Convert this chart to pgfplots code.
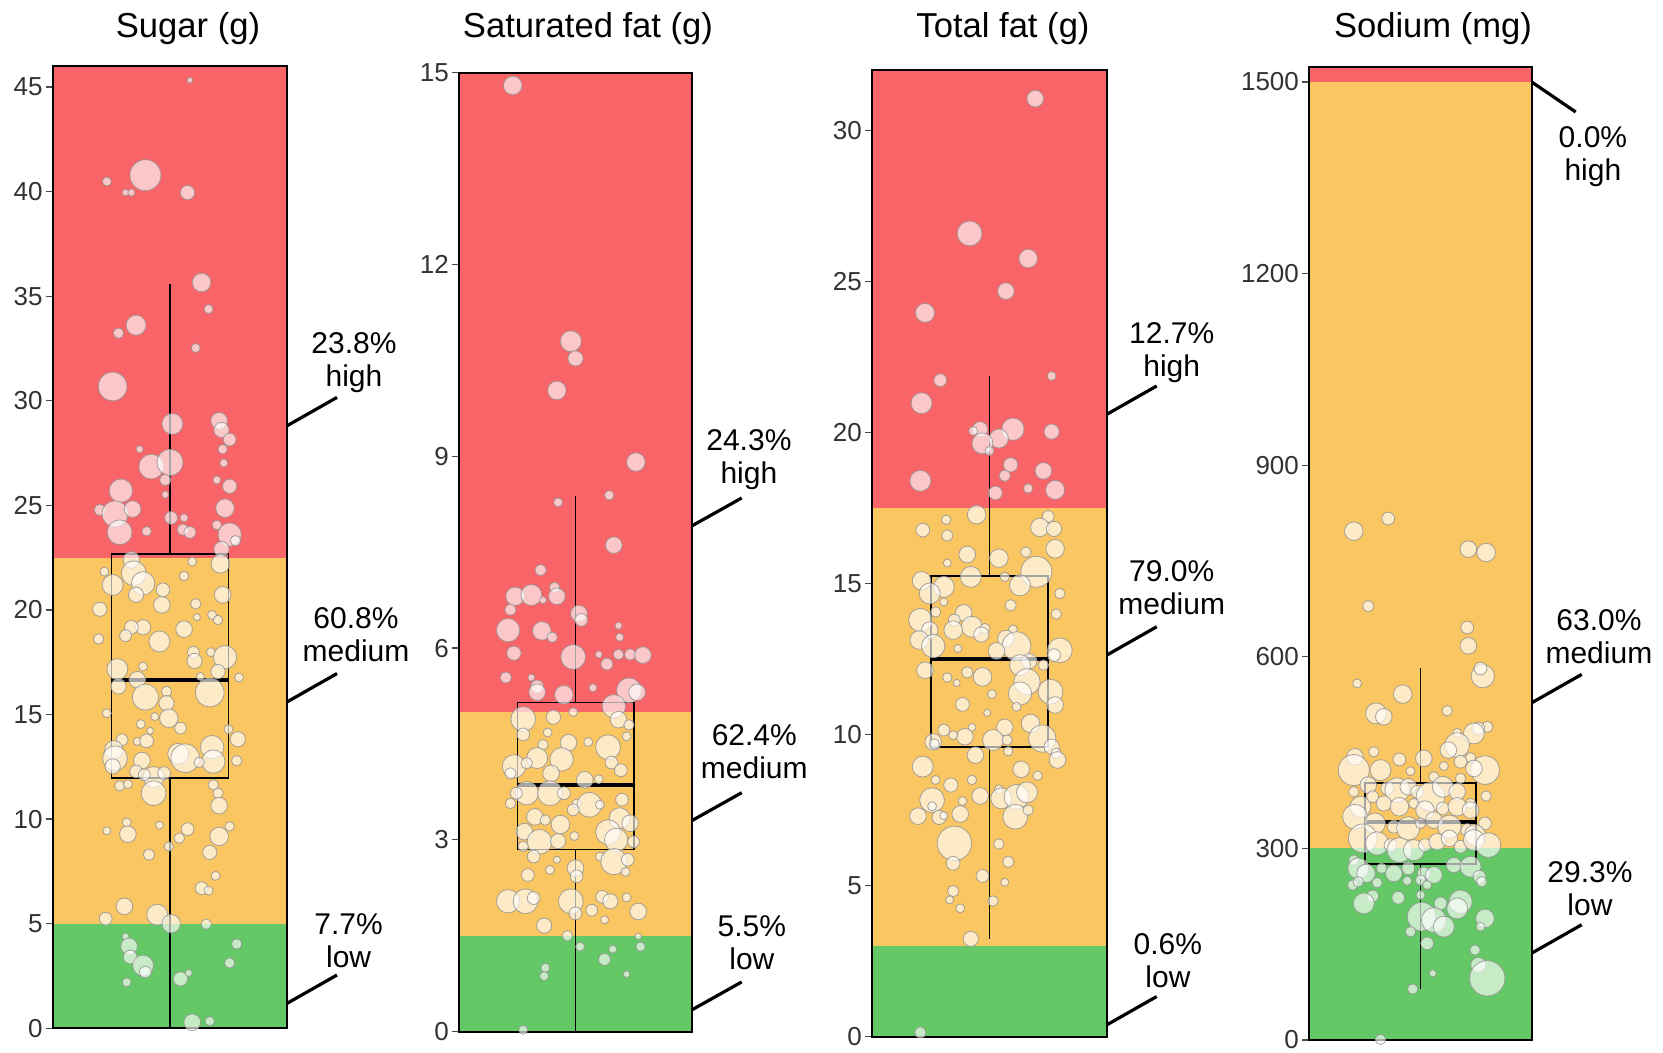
\documentclass[border=0pt]{standalone}
\usepackage{fontspec}
\setmainfont{Liberation Sans}
\usepackage{pgfplots}
\pgfplotsset{compat=1.18}
\definecolor{cred}{RGB}{249,100,104}
\definecolor{cyel}{RGB}{250,198,98}
\definecolor{cgrn}{RGB}{100,200,102}
\definecolor{tickgray}{RGB}{50,50,50}
\pgfplotsset{
  panel/.style={
    scale only axis, anchor=south west,
    xmin=-1, xmax=1, ymin=0,
    xtick=\empty, ytick pos=left, tick align=outside,
    major tick length=3.5pt,
    every tick/.style={black!70, line width=0.6pt},
    axis line style={black, line width=1pt},
    yticklabel style={font=\fontsize{13}{15}\selectfont, text=tickgray, inner xsep=1.5pt},
    /pgf/number format/assume math mode=true,
    /pgf/number format/1000 sep={},
    clip=false, axis on top,
  },
  bubble/.style={scatter, only marks, mark=*,
    scatter/use mapped color={draw=black!42, fill=white, fill opacity=0.64, draw opacity=0.85},
    visualization depends on={\thisrow{r}\as\rr},
    scatter/@pre marker code/.append style={/tikz/mark size={1.2*\rr+0.2}, /tikz/line width=0.55pt}},
  whisk/.style={black, line width=0.65pt, mark=none},
  boxl/.style={black, line width=0.9pt, mark=none},
  medl/.style={black, line width=2pt, mark=none},
}
\tikzset{ann/.style={anchor=north, align=center, inner sep=0pt, font=\fontsize{15}{16.5}\selectfont},
  annl/.style={line width=1.6pt}}
\begin{document}
\begin{tikzpicture}
\path[use as bounding box] (0,0) rectangle (831.5pt,526.5pt);
% ---------------- Sugar
\begin{axis}[panel, at={(26.5pt,12.35pt)}, width=117pt, height=481.15pt, ymax=46, ytick={0,5,...,45}]
\addplot[fill=cred, draw=none] coordinates {(-1,22.5) (1,22.5) (1,46) (-1,46)} -- cycle;
\addplot[fill=cyel, draw=none] coordinates {(-1,5) (1,5) (1,22.5) (-1,22.5)} -- cycle;
\addplot[fill=cgrn, draw=none] coordinates {(-1,0) (1,0) (1,5) (-1,5)} -- cycle;
\addplot[whisk] coordinates {(0,0) (0,11.97)};
\addplot[whisk] coordinates {(0,22.68) (0,35.6)};
\addplot[boxl] coordinates {(-0.5,11.97) (0.5,11.97) (0.5,22.68) (-0.5,22.68)} -- cycle;
\addplot[medl] coordinates {(-0.5,16.63) (0.5,16.63)};
\addplot[bubble] table[x=x, y=y, row sep=\\] {
x y r \\
0.17 45.32 1.0 \\ -0.54 40.48 1.7 \\ -0.38 39.95 1.2 \\ -0.33 39.95 1.3 \\ -0.21 40.78 6.3 \\
0.15 39.95 2.8 \\ 0.27 35.65 3.7 \\ 0.33 34.38 1.7 \\ -0.29 33.61 4.0 \\ -0.44 33.23 2.0 \\
0.22 32.52 1.7 \\ -0.49 30.68 5.8 \\ 0.02 28.89 4.2 \\ 0.42 29.04 3.3 \\ 0.44 28.6 3.0 \\
0.51 28.14 2.5 \\ -0.26 27.68 1.3 \\ 0.45 27.68 1.8 \\ 0.46 27.02 1.5 \\ -0.16 26.85 5.0 \\
0.0 27.05 5.3 \\ -0.04 26.21 2.2 \\ 0.4 26.21 1.5 \\ -0.42 25.7 4.7 \\ 0.51 25.91 2.8 \\
-0.04 25.51 1.3 \\ -0.6 24.78 2.2 \\ -0.47 24.59 5.3 \\ -0.32 24.82 3.3 \\ 0.47 24.86 3.7 \\
0.01 24.4 2.5 \\ 0.12 24.4 1.5 \\ -0.43 23.71 5.0 \\ -0.2 23.76 1.8 \\ 0.11 23.84 2.2 \\
0.17 23.71 2.3 \\ 0.4 24.06 1.8 \\ 0.51 23.6 4.7 \\ 0.56 23.31 2.0 \\ 0.44 22.91 3.0 \\
-0.33 22.39 3.3 \\ -0.56 21.83 1.7 \\ -0.49 21.19 4.2 \\ -0.31 21.75 5.0 \\ -0.23 21.27 4.7 \\
-0.29 20.72 3.0 \\ -0.06 20.96 2.7 \\ 0.19 22.31 1.7 \\ 0.12 21.62 1.8 \\ 0.43 22.2 3.7 \\
0.45 20.72 3.3 \\ -0.07 20.24 3.3 \\ 0.22 20.29 2.0 \\ -0.6 20.03 2.8 \\ 0.23 19.65 1.3 \\
0.36 19.76 1.7 \\ 0.41 19.52 1.8 \\ -0.23 19.17 3.0 \\ -0.33 19.17 2.7 \\ 0.12 19.08 3.3 \\
-0.38 18.77 2.3 \\ -0.61 18.61 2.0 \\ -0.09 18.49 4.2 \\ 0.2 17.98 2.3 \\ 0.35 17.98 1.7 \\
0.47 17.74 4.7 \\ 0.21 17.56 3.0 \\ -0.23 17.29 1.7 \\ -0.45 17.17 4.2 \\ 0.41 17.05 2.8 \\
0.26 16.82 1.5 \\ 0.59 16.77 1.7 \\ -0.28 16.66 3.3 \\ -0.44 16.34 3.0 \\ -0.21 15.83 5.3 \\
-0.03 16.1 2.0 \\ -0.03 15.54 3.0 \\ 0.34 16.05 5.8 \\ -0.54 15.06 1.7 \\ -0.13 14.9 1.5 \\
-0.01 14.82 3.7 \\ 0.09 14.35 2.3 \\ -0.25 14.54 1.7 \\ -0.17 14.22 1.3 \\ -0.41 13.79 2.3 \\
-0.28 13.71 1.5 \\ -0.2 13.74 2.7 \\ -0.48 13.31 3.7 \\ -0.47 12.91 5.0 \\ -0.49 12.52 3.0 \\
-0.24 12.8 3.3 \\ 0.07 13.12 4.2 \\ 0.13 12.91 5.8 \\ 0.36 13.44 4.7 \\ 0.58 13.82 3.0 \\
0.5 14.3 1.7 \\ 0.37 12.75 4.7 \\ 0.25 12.71 2.0 \\ 0.57 12.79 2.0 \\ -0.29 12.28 2.5 \\
-0.14 12.01 4.2 \\ -0.05 12.2 2.5 \\ -0.22 12.12 2.3 \\ -0.43 11.59 2.0 \\ -0.36 11.67 1.7 \\
-0.14 11.24 5.0 \\ 0.37 11.64 2.0 \\ 0.41 11.24 2.0 \\ 0.42 10.64 3.3 \\ -0.37 9.84 1.7 \\
-0.54 9.44 1.5 \\ -0.36 9.28 3.3 \\ -0.09 9.71 1.5 \\ 0.15 9.52 2.5 \\ 0.08 9.09 2.0 \\
0.42 9.17 3.7 \\ 0.51 9.65 1.8 \\ -0.01 8.69 1.8 \\ -0.18 8.3 2.2 \\ 0.34 8.41 2.8 \\
0.39 7.29 1.7 \\ 0.27 6.7 2.5 \\ 0.33 6.58 1.7 \\ -0.39 5.83 3.3 \\ -0.55 5.24 2.5 \\
-0.11 5.43 4.2 \\ 0.01 5.0 3.7 \\ 0.31 4.98 2.0 \\ -0.38 4.39 1.3 \\ -0.35 3.92 3.3 \\
-0.34 3.41 2.7 \\ -0.23 3.0 4.2 \\ -0.21 2.69 2.3 \\ 0.57 4.03 2.0 \\ 0.51 3.12 2.0 \\
0.09 2.36 2.8 \\ 0.16 2.64 1.3 \\ -0.37 2.2 1.7 \\ 0.19 0.29 3.3 \\ 0.34 0.34 1.8 \\
};
\draw[annl] (axis cs:1,28.8) -- ++(25pt,14.2pt) node[ann, yshift=33pt, xshift=8.5pt] {23.8\%\\high};
\draw[annl] (axis cs:1,15.6) -- ++(25pt,14.2pt) node[ann, yshift=34pt, xshift=9.5pt] {60.8\%\\medium};
\draw[annl] (axis cs:1,1.19) -- ++(25pt,14.2pt) node[ann, yshift=31.5pt, xshift=5.8pt] {7.7\%\\low};
\end{axis}
% ---------------- Saturated fat
\begin{axis}[panel, at={(229.65pt,10.65pt)}, width=116.2pt, height=479.5pt, ymax=15, ytick={0,3,...,15}]
\addplot[fill=cred, draw=none] coordinates {(-1,5) (1,5) (1,15) (-1,15)} -- cycle;
\addplot[fill=cyel, draw=none] coordinates {(-1,1.5) (1,1.5) (1,5) (-1,5)} -- cycle;
\addplot[fill=cgrn, draw=none] coordinates {(-1,0) (1,0) (1,1.5) (-1,1.5)} -- cycle;
\addplot[whisk] coordinates {(0,0) (0,2.85)};
\addplot[whisk] coordinates {(0,5.15) (0,8.38)};
\addplot[boxl] coordinates {(-0.5,2.85) (0.5,2.85) (0.5,5.15) (-0.5,5.15)} -- cycle;
\addplot[medl] coordinates {(-0.5,3.86) (0.5,3.86)};
\addplot[bubble] table[x=x, y=y, row sep=\\] {
x y r \\
-0.54 14.8 3.7 \\ -0.04 10.8 4.2 \\ 0.0 10.53 3.0 \\ -0.16 10.03 3.7 \\ 0.52 8.91 3.7 \\
0.29 8.39 1.8 \\ -0.15 8.28 1.7 \\ 0.33 7.61 3.3 \\ -0.3 7.22 2.2 \\ -0.52 6.81 3.7 \\
-0.38 6.83 4.2 \\ -0.28 6.75 1.3 \\ -0.18 6.95 2.0 \\ -0.16 6.81 3.3 \\ -0.56 6.6 2.2 \\
0.03 6.54 3.3 \\ 0.05 6.44 2.5 \\ 0.37 6.35 1.3 \\ -0.58 6.28 4.7 \\ -0.29 6.27 3.7 \\
-0.2 6.17 2.0 \\ 0.38 6.17 1.5 \\ -0.02 5.86 5.0 \\ -0.53 5.92 2.8 \\ 0.2 5.9 1.3 \\
0.27 5.75 2.3 \\ 0.37 5.9 2.0 \\ 0.47 5.9 2.2 \\ 0.58 5.89 3.3 \\ -0.6 5.54 2.2 \\
-0.38 5.54 1.3 \\ -0.33 5.4 2.5 \\ -0.33 5.31 3.3 \\ 0.15 5.38 1.5 \\ -0.1 5.27 3.7 \\
0.46 5.34 5.0 \\ 0.53 5.31 3.3 \\ -0.45 4.89 5.0 \\ -0.19 4.92 2.8 \\ -0.02 5.0 1.7 \\
0.33 5.09 4.7 \\ 0.37 4.88 3.3 \\ 0.46 4.8 2.0 \\ -0.45 4.65 2.5 \\ -0.24 4.68 1.7 \\
-0.06 4.52 3.3 \\ 0.11 4.53 1.7 \\ 0.28 4.45 5.0 \\ 0.44 4.62 1.7 \\ -0.28 4.49 2.0 \\
-0.33 4.28 4.2 \\ -0.12 4.26 4.7 \\ -0.53 4.15 4.7 \\ -0.42 4.2 2.2 \\ 0.31 4.21 2.5 \\
0.39 4.09 2.5 \\ -0.21 4.04 3.3 \\ 0.08 3.94 3.3 \\ 0.2 3.95 1.7 \\ -0.56 4.04 2.2 \\
-0.42 3.73 4.7 \\ -0.22 3.73 5.0 \\ -0.1 3.73 2.5 \\ 0.01 3.57 1.7 \\ 0.12 3.55 5.0 \\
0.21 3.55 1.7 \\ -0.56 3.57 2.0 \\ -0.51 3.73 2.3 \\ 0.4 3.63 2.5 \\ -0.35 3.36 3.3 \\
-0.26 3.31 2.0 \\ -0.13 3.24 3.7 \\ -0.02 3.47 2.3 \\ 0.38 3.34 4.2 \\ 0.47 3.26 3.3 \\
-0.44 3.13 3.3 \\ -0.31 2.97 5.0 \\ -0.15 2.98 3.0 \\ -0.01 3.06 1.7 \\ 0.28 3.12 5.0 \\
0.35 3.0 4.7 \\ 0.5 2.97 2.3 \\ -0.45 2.9 2.0 \\ -0.36 2.74 2.5 \\ -0.16 2.69 1.3 \\
0.21 2.74 1.7 \\ 0.33 2.66 5.3 \\ 0.45 2.69 2.5 \\ 0.0 2.56 3.3 \\ 0.01 2.43 2.5 \\
-0.41 2.45 2.5 \\ -0.22 2.53 1.7 \\ 0.43 2.5 1.7 \\ -0.58 2.04 4.7 \\ -0.43 2.04 5.0 \\
-0.36 2.09 2.5 \\ -0.04 2.04 5.0 \\ 0.0 1.85 2.5 \\ 0.23 2.11 2.5 \\ 0.3 2.04 3.0 \\
0.14 1.9 2.3 \\ 0.44 2.1 1.7 \\ 0.54 1.88 3.3 \\ 0.25 1.75 1.5 \\ -0.27 1.66 3.0 \\
-0.07 1.5 2.0 \\ 0.04 1.33 1.7 \\ 0.54 1.49 1.2 \\ 0.56 1.33 1.8 \\ 0.32 1.29 1.5 \\
0.25 1.13 2.3 \\ -0.26 1.0 1.7 \\ -0.27 0.87 1.7 \\ 0.44 0.9 1.2 \\ -0.45 0.03 1.7 \\
};
\draw[annl] (axis cs:1,7.91) -- ++(25pt,14pt) node[ann, yshift=35pt, xshift=3.6pt] {24.3\%\\high};
\draw[annl] (axis cs:1,3.30) -- ++(25pt,14pt) node[ann, yshift=35pt, xshift=6.3pt] {62.4\%\\medium};
\draw[annl] (axis cs:1,0.34) -- ++(25pt,14pt) node[ann, yshift=34pt, xshift=5.1pt] {5.5\%\\low};
\end{axis}
% ---------------- Total fat
\begin{axis}[panel, at={(436.15pt,8.15pt)}, width=117.2pt, height=483.35pt, ymax=32, ytick={0,5,...,30}]
\addplot[fill=cred, draw=none] coordinates {(-1,17.5) (1,17.5) (1,32) (-1,32)} -- cycle;
\addplot[fill=cyel, draw=none] coordinates {(-1,3) (1,3) (1,17.5) (-1,17.5)} -- cycle;
\addplot[fill=cgrn, draw=none] coordinates {(-1,0) (1,0) (1,3) (-1,3)} -- cycle;
\addplot[whisk] coordinates {(0,3.25) (0,9.6)};
\addplot[whisk] coordinates {(0,15.25) (0,21.86)};
\addplot[boxl] coordinates {(-0.5,9.6) (0.5,9.6) (0.5,15.25) (-0.5,15.25)} -- cycle;
\addplot[medl] coordinates {(-0.5,12.5) (0.5,12.5)};
\addplot[bubble] table[x=x, y=y, row sep=\\] {
x y r \\
0.39 31.05 3.3 \\ -0.17 26.59 5.0 \\ 0.33 25.76 3.7 \\ 0.14 24.68 3.3 \\ -0.55 23.96 3.8 \\
-0.42 21.73 2.5 \\ 0.53 21.87 1.7 \\ -0.58 20.97 4.2 \\ -0.08 20.11 3.0 \\ -0.14 20.05 1.7 \\
0.2 20.11 4.5 \\ 0.08 19.8 3.8 \\ -0.06 19.64 4.2 \\ 0.53 20.03 3.0 \\ 0.0 19.39 1.7 \\
0.18 18.93 2.8 \\ 0.46 18.73 3.3 \\ 0.13 18.57 2.2 \\ -0.59 18.4 4.2 \\ 0.33 18.15 1.8 \\
0.56 18.1 3.8 \\ 0.05 18.0 2.7 \\ -0.11 17.28 3.7 \\ -0.37 17.11 1.8 \\ 0.5 17.22 2.3 \\
-0.57 16.77 2.7 \\ -0.36 16.59 2.2 \\ 0.43 16.86 3.7 \\ 0.55 16.81 3.0 \\ 0.56 16.15 3.7 \\
-0.19 15.96 3.3 \\ 0.08 15.84 3.7 \\ 0.31 16.04 2.0 \\ -0.36 15.68 1.5 \\ 0.4 15.39 6.3 \\
-0.16 15.22 4.2 \\ -0.58 15.09 3.7 \\ 0.13 15.22 1.8 \\ 0.26 14.94 4.2 \\ -0.39 14.89 4.2 \\
-0.51 14.67 4.2 \\ 0.6 14.67 2.0 \\ -0.39 14.39 1.5 \\ 0.18 14.28 2.2 \\ -0.59 13.79 4.7 \\
-0.46 14.06 2.0 \\ -0.22 14.03 3.3 \\ -0.3 13.79 2.3 \\ 0.57 13.99 2.0 \\ -0.15 13.57 4.2 \\
-0.04 13.51 2.0 \\ -0.51 13.46 3.3 \\ -0.31 13.46 3.7 \\ -0.07 13.31 3.0 \\ 0.2 13.48 1.7 \\
-0.6 13.13 3.7 \\ 0.14 13.18 3.3 \\ 0.23 12.93 5.8 \\ -0.48 12.93 4.7 \\ -0.27 12.85 1.5 \\
0.06 12.77 3.3 \\ 0.6 12.79 5.0 \\ 0.55 12.63 2.5 \\ 0.34 12.43 3.0 \\ 0.26 12.3 4.2 \\
0.46 12.3 2.0 \\ -0.55 12.13 3.3 \\ -0.19 12.06 2.2 \\ -0.36 11.89 1.8 \\ -0.06 11.91 3.7 \\
-0.28 11.71 1.3 \\ 0.32 11.75 5.3 \\ 0.52 11.42 5.0 \\ 0.02 11.34 1.7 \\ 0.26 11.36 4.7 \\
-0.23 11.0 2.7 \\ -0.02 10.72 1.3 \\ 0.23 10.92 1.7 \\ 0.56 10.98 3.3 \\ 0.35 10.37 3.7 \\
0.13 10.24 3.3 \\ -0.15 10.24 1.5 \\ -0.39 10.15 2.3 \\ -0.21 9.93 3.3 \\ -0.31 9.98 1.7 \\
-0.48 9.76 3.3 \\ 0.03 9.82 4.2 \\ 0.45 9.87 5.5 \\ 0.15 9.82 2.0 \\ 0.53 9.6 3.0 \\
0.16 9.45 1.8 \\ -0.47 9.69 2.0 \\ -0.12 9.32 3.3 \\ 0.57 9.38 2.0 \\ 0.58 9.16 3.3 \\
-0.57 8.94 4.2 \\ 0.27 8.85 3.3 \\ -0.46 8.5 1.7 \\ -0.15 8.5 1.8 \\ 0.41 8.64 1.8 \\
-0.33 8.33 2.8 \\ -0.08 7.97 3.3 \\ 0.08 8.19 1.7 \\ 0.1 7.89 4.2 \\ 0.23 7.94 5.0 \\
0.32 8.09 4.2 \\ -0.49 7.83 5.0 \\ -0.49 7.63 1.7 \\ -0.23 7.8 1.7 \\ 0.22 7.28 5.0 \\
0.33 7.5 2.0 \\ -0.61 7.3 3.3 \\ -0.43 7.26 2.8 \\ -0.39 7.32 1.5 \\ -0.25 7.37 3.3 \\
-0.3 6.4 7.0 \\ 0.08 6.38 2.0 \\ -0.31 5.74 2.7 \\ 0.16 5.79 2.2 \\ -0.06 5.32 2.5 \\
0.13 5.11 1.5 \\ -0.31 4.82 2.2 \\ -0.34 4.53 1.5 \\ 0.03 4.49 2.0 \\ -0.25 4.25 1.7 \\
-0.16 3.24 3.0 \\ -0.59 0.14 2.2 \\
};
\draw[annl] (axis cs:1,20.6) -- ++(25pt,14.2pt) node[ann, yshift=32.5pt, xshift=7.5pt] {12.7\%\\high};
\draw[annl] (axis cs:1,12.63) -- ++(25pt,14.2pt) node[ann, yshift=34pt, xshift=7.5pt] {79.0\%\\medium};
\draw[annl] (axis cs:1,0.39) -- ++(25pt,14.2pt) node[ann, yshift=32.5pt, xshift=5.6pt] {0.6\%\\low};
\end{axis}
% ---------------- Sodium
\begin{axis}[panel, at={(654.65pt,6.5pt)}, width=111.2pt, height=486.65pt, ymax=1524, ytick={0,300,600,900,1200,1500}]
\addplot[fill=cred, draw=none] coordinates {(-1,1500) (1,1500) (1,1524) (-1,1524)} -- cycle;
\addplot[fill=cyel, draw=none] coordinates {(-1,300) (1,300) (1,1500) (-1,1500)} -- cycle;
\addplot[fill=cgrn, draw=none] coordinates {(-1,0) (1,0) (1,300) (-1,300)} -- cycle;
\addplot[whisk] coordinates {(0,79.3) (0,275)};
\addplot[whisk] coordinates {(0,402.7) (0,582.6)};
\addplot[boxl] coordinates {(-0.5,275) (0.5,275) (0.5,402.7) (-0.5,402.7)} -- cycle;
\addplot[medl] coordinates {(-0.5,341.6) (0.5,341.6)};
\addplot[bubble] table[x=x, y=y, row sep=\\] {
x y r \\
-0.6 796.7 3.7 \\ -0.29 816.5 2.5 \\ 0.43 768.5 3.3 \\ 0.59 763.3 3.7 \\ -0.47 679.3 2.2 \\
0.42 645.9 2.5 \\ 0.43 617.2 3.3 \\ 0.56 569.7 4.7 \\ 0.54 581.7 2.5 \\ -0.57 558.3 1.7 \\
-0.16 541.6 3.7 \\ -0.4 511.3 4.2 \\ -0.33 506.1 3.3 \\ 0.24 515.5 2.0 \\ 0.6 490.4 2.2 \\
0.52 487.8 2.5 \\ 0.48 480.0 4.2 \\ 0.33 481.0 1.7 \\ 0.33 461.7 5.0 \\ 0.25 453.9 3.3 \\
-0.59 443.5 3.3 \\ -0.42 451.3 2.0 \\ 0.03 440.9 3.3 \\ -0.19 439.3 2.5 \\ 0.45 441.9 2.0 \\
0.21 428.9 1.7 \\ -0.6 422.6 6.3 \\ -0.36 422.6 4.2 \\ -0.09 421.0 1.7 \\ 0.36 435.7 2.5 \\
0.58 422.6 5.8 \\ 0.48 425.2 3.3 \\ 0.12 412.2 2.0 \\ 0.36 409.6 2.0 \\ -0.47 399.1 3.3 \\
-0.3 393.9 2.5 \\ -0.21 391.3 5.0 \\ -0.11 396.5 3.3 \\ -0.03 388.7 2.5 \\ 0.09 380.9 5.8 \\
0.2 396.5 4.2 \\ 0.33 388.7 3.3 \\ 0.45 370.4 2.0 \\ 0.59 381.9 2.0 \\ -0.6 388.7 2.0 \\
-0.54 365.2 4.2 \\ -0.43 380.9 2.3 \\ -0.33 370.4 3.0 \\ -0.19 365.2 3.7 \\ -0.06 370.4 2.0 \\
0.04 360.0 3.7 \\ 0.2 362.6 2.5 \\ 0.33 365.2 3.7 \\ 0.45 360.0 3.3 \\ -0.59 349.6 5.0 \\
-0.41 339.1 4.2 \\ -0.24 333.9 2.5 \\ -0.11 331.3 4.7 \\ 0.0 339.1 2.0 \\ 0.12 344.3 3.3 \\
0.26 333.9 4.7 \\ 0.42 328.7 2.5 \\ 0.58 339.1 2.5 \\ 0.49 320.9 4.2 \\ -0.52 315.7 5.8 \\
-0.39 307.8 4.7 \\ -0.27 305.2 2.5 \\ -0.19 297.4 5.0 \\ -0.06 297.4 4.2 \\ 0.04 305.2 2.5 \\
0.15 310.4 3.3 \\ 0.26 315.7 3.3 \\ 0.36 302.6 2.5 \\ 0.48 313.0 4.2 \\ 0.61 305.2 5.0 \\
-0.6 281.7 2.0 \\ -0.56 268.7 4.2 \\ -0.49 260.9 3.7 \\ -0.35 268.7 2.0 \\ -0.24 260.9 3.3 \\
-0.11 268.7 2.5 \\ 0.03 260.9 2.5 \\ 0.12 258.3 3.3 \\ 0.3 273.9 3.0 \\ 0.45 271.3 4.2 \\
0.53 255.7 2.5 \\ 0.55 247.8 2.0 \\ -0.61 242.6 2.0 \\ -0.56 247.8 2.0 \\ -0.39 246.3 2.0 \\
-0.12 249.4 1.7 \\ 0.0 250.4 2.0 \\ 0.06 242.6 1.7 \\ -0.43 225.4 2.3 \\ -0.51 213.9 4.2 \\
-0.2 222.8 2.5 \\ 0.0 227.0 1.7 \\ 0.18 213.9 2.5 \\ 0.36 216.5 4.7 \\ 0.33 206.1 4.2 \\
0.01 193.1 5.8 \\ 0.12 187.8 5.0 \\ 0.21 177.4 4.2 \\ -0.09 169.6 2.0 \\ 0.58 190.4 3.7 \\
0.54 177.4 1.7 \\ 0.06 151.3 2.5 \\ 0.49 140.9 2.0 \\ 0.52 117.4 3.0 \\ 0.6 96.5 7.2 \\
0.11 104.4 1.3 \\ -0.07 79.8 2.0 \\ -0.36 1.0 2.0 \\
};
\draw[annl] (axis cs:1,1500) -- ++(22pt,-15pt) node[ann, yshift=-6.7pt, xshift=8.6pt] {0.0\%\\high};
\draw[annl] (axis cs:1,528) -- ++(25pt,14.2pt) node[ann, yshift=33pt, xshift=8.6pt] {63.0\%\\medium};
\draw[annl] (axis cs:1,136) -- ++(25pt,14.2pt) node[ann, yshift=32.5pt, xshift=4.1pt] {29.3\%\\low};
\end{axis}
% ---------------- titles
\begin{scope}[every node/.style={anchor=base, font=\fontsize{17.3}{19}\selectfont, inner sep=0pt}]
\node at (94pt,507.5pt) {Sugar (g)};
\node at (294pt,507.5pt) {Saturated fat (g)};
\node at (501.5pt,507.5pt) {Total fat (g)};
\node at (716.5pt,507.5pt) {Sodium (mg)};
\end{scope}
\end{tikzpicture}
\end{document}
